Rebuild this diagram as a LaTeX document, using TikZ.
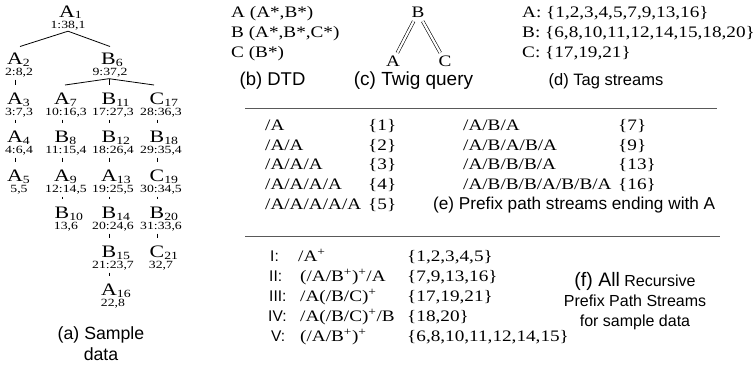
\documentclass[tikz,border=0pt]{standalone}
\usepackage{fontspec}
\setmainfont[FakeStretch=1.2]{Liberation Serif}
\newfontfamily\treefont[FakeStretch=1.25]{Liberation Serif}
\newfontfamily\numfont[FakeStretch=1.25]{Liberation Serif}
\newfontfamily\capfont{Liberation Sans}
\newcommand{\tlab}[2]{#1\rlap{\fontsize{11}{11}\selectfont\raisebox{-1.5pt}{#2}}}
\newcommand{\plussup}{\textsuperscript{+}}
\begin{document}
\begin{tikzpicture}[x=1pt,y=-1pt,
  tl/.style={font=\treefont\fontsize{17.5}{17.5}\selectfont, inner sep=0pt, text height=11.6pt, text depth=0pt},
  tn/.style={font=\numfont\fontsize{11}{11}\selectfont, inner sep=1pt},
  tedge/.style={line width=0.8pt},
  tx/.style={anchor=base west, inner sep=0pt, font=\fontsize{16}{16}\selectfont},
  capt/.style={anchor=base, inner sep=0pt, font=\capfont\fontsize{16}{16}\selectfont},
  rom/.style={anchor=base west, inner sep=0pt, font=\capfont\fontsize{15.5}{15.5}\selectfont},
  tw/.style={anchor=base, inner sep=3pt, font=\fontsize{16}{16}\selectfont},
  dbl/.style={double distance=2.2pt, line width=0.6pt},
  hrule/.style={line width=1.2pt, black!65}]
\useasboundingbox (0,0) rectangle (756,369);

% ---------- (a) tree ----------
\node[tl] (A1) at (67,11.5) {\tlab{A}{1}};
\node[tn] (nA1) at (68,25.5) {1:38,1};
\node[tl] (A2) at (15,59) {\tlab{A}{2}};
\node[tn] (nA2) at (19,73) {2:8,2};
\node[tl] (B6) at (108.5,59) {\tlab{B}{6}};
\node[tn] (nB6) at (110,73) {9:37,2};
% row 3
\node[tl] (A3) at (15,99) {\tlab{A}{3}};
\node[tn] (nA3) at (19,113) {3:7,3};
\node[tl] (A7) at (62,99) {\tlab{A}{7}};
\node[tn] (nA7) at (66,113) {10:16,3};
\node[tl] (B11) at (109,99) {\tlab{B}{11}};
\node[tn] (nB11) at (113,113) {17:27,3};
\node[tl] (C17) at (157,99) {\tlab{C}{17}};
\node[tn] (nC17) at (161,113) {28:36,3};
% row 4
\node[tl] (A4) at (15,137) {\tlab{A}{4}};
\node[tn] (nA4) at (19,151) {4:6,4};
\node[tl] (B8) at (62,137) {\tlab{B}{8}};
\node[tn] (nB8) at (66,151) {11:15,4};
\node[tl] (B12) at (109,137) {\tlab{B}{12}};
\node[tn] (nB12) at (113,151) {18:26,4};
\node[tl] (B18) at (157,137) {\tlab{B}{18}};
\node[tn] (nB18) at (161,151) {29:35,4};
% row 5
\node[tl] (A5) at (15,176) {\tlab{A}{5}};
\node[tn] (nA5) at (19,190) {5,5};
\node[tl] (A9) at (62,176) {\tlab{A}{9}};
\node[tn] (nA9) at (66,190) {12:14,5};
\node[tl] (A13) at (109,176) {\tlab{A}{13}};
\node[tn] (nA13) at (113,190) {19:25,5};
\node[tl] (C19) at (157,176) {\tlab{C}{19}};
\node[tn] (nC19) at (161,190) {30:34,5};
% row 6
\node[tl] (B10) at (62,213) {\tlab{B}{10}};
\node[tn] (nB10) at (66,227) {13,6};
\node[tl] (B14) at (109,213) {\tlab{B}{14}};
\node[tn] (nB14) at (113,227) {20:24,6};
\node[tl] (B20) at (157,213) {\tlab{B}{20}};
\node[tn] (nB20) at (161,227) {31:33,6};
% row 7
\node[tl] (B15) at (109,252) {\tlab{B}{15}};
\node[tn] (nB15) at (113,266) {21:23,7};
\node[tl] (C21) at (157,252) {\tlab{C}{21}};
\node[tn] (nC21) at (161,266) {32,7};
% row 8
\node[tl] (A16) at (109,290) {\tlab{A}{16}};
\node[tn] (nA16) at (113,304) {22,8};

% tree edges
\draw[tedge] (nA1.south) -- ([yshift=6.5pt,xshift=5pt]A2.north);
\draw[tedge] (nA1.south) -- ([yshift=6.5pt,xshift=1.5pt]B6.north);
\draw[tedge] (nB6.south -| B11) -- ([yshift=8pt,xshift=3pt]A7.north);
\draw[tedge] (nB6.south -| B11) -- ([yshift=8pt]B11.north);
\draw[tedge] (nB6.south -| B11) -- ([yshift=8pt,xshift=-3pt]C17.north);
\foreach \u/\v in {A2/A3,A3/A4,A4/A5,A7/B8,B8/A9,A9/B10,B11/B12,B12/A13,A13/B14,B14/B15,B15/A16,C17/B18,B18/C19,C19/B20,B20/C21}
  \draw[tedge] ([yshift=-1pt]n\u.south -| \v) -- ([yshift=8pt]\v.north);

\node[capt, font=\capfont\fontsize{17.7}{17.7}\selectfont] (capa1) at (101,339.5) {(a) Sample};
\node[capt, font=\capfont\fontsize{17.7}{17.7}\selectfont] (capa2) at (101,360) {data};

% ---------- (b) DTD ----------
\node[tx] (d1) at (231,18) {A (A*,B*)};
\node[tx] (d2) at (231,38) {B (A*,B*,C*)};
\node[tx] (d3) at (231,58) {C (B*)};
\node[capt, font=\capfont\fontsize{18.5}{18.5}\selectfont] (capb) at (272.5,86) {(b) DTD};

% ---------- (c) twig ----------
\node[tw] (tB) at (418,18) {B};
\node[tw] (tA) at (393,66.5) {A};
\node[tw] (tC) at (445,66.5) {C};
\draw[dbl] (tB) -- (tA);
\draw[dbl] (tB) -- (tC);
\node[capt, font=\capfont\fontsize{19}{19}\selectfont] (capc) at (413.5,86) {(c) Twig query};

% ---------- (d) tag streams ----------
\node[tx] (s1) at (522,18) {A: \{1,2,3,4,5,7,9,13,16\}};
\node[tx] (s2) at (522,38) {B: \{6,8,10,11,12,14,15,18,20\}};
\node[tx] (s3) at (522,58) {C: \{17,19,21\}};
\node[capt, font=\capfont\fontsize{16.5}{16.5}\selectfont] (capd) at (606,86) {(d) Tag streams};

% rule 1
\coordinate (ra) at (245,108.5);
\coordinate (rb) at (717,108.5);
\draw[hrule] (ra) -- (rb);

% ---------- (e) prefix path streams ----------
\node[tx] (p1) at (265,130.5) {/A};
\node[tx] (p2) at (265,150.2) {/A/A};
\node[tx] (p3) at (265,169.9) {/A/A/A};
\node[tx] (p4) at (265,189.6) {/A/A/A/A};
\node[tx] (p5) at (265,209.3) {/A/A/A/A/A};
\node[tx] (q1) at (368,130.5) {\{1\}};
\node[tx] (q2) at (368,150.2) {\{2\}};
\node[tx] (q3) at (368,169.9) {\{3\}};
\node[tx] (q4) at (368,189.6) {\{4\}};
\node[tx] (q5) at (368,209.3) {\{5\}};
\node[tx] (p6) at (463,130.5) {/A/B/A};
\node[tx] (p7) at (463,150.2) {/A/B/A/B/A};
\node[tx] (p8) at (463,169.9) {/A/B/B/B/A};
\node[tx] (p9) at (463,189.6) {/A/B/B/B/A/B/B/A};
\node[tx] (q6) at (618,130.5) {\{7\}};
\node[tx] (q7) at (618,150.2) {\{9\}};
\node[tx] (q8) at (618,169.9) {\{13\}};
\node[tx] (q9) at (618,189.6) {\{16\}};
\node[capt, anchor=base west, font=\capfont\fontsize{17.2}{17.2}\selectfont] (cape) at (433,209.3) {(e) Prefix path streams ending with A};

% rule 2
\coordinate (rc) at (245,236.7);
\coordinate (rd) at (720,236.7);
\draw[hrule] (rc) -- (rd);

% ---------- (f) recursive prefix path streams ----------
\node[rom] (r1) at (270,261.5) {I:};
\node[rom] (r2) at (269,281.5) {II:};
\node[rom] (r3) at (269,301.5) {III:};
\node[rom] (r4) at (268,321.5) {IV:};
\node[rom] (r5) at (271,341.5) {V:};
\node[tx] (e1) at (298,261.5) {/A\plussup};
\node[tx] (e2) at (300,281.5) {(/A/B\plussup)\plussup/A};
\node[tx] (e3) at (300,301.5) {/A(/B/C)\plussup};
\node[tx] (e4) at (300,321.5) {/A(/B/C)\plussup/B};
\node[tx] (e5) at (300,341.5) {(/A/B\plussup)\plussup};
\node[tx] (f1) at (407,261.5) {\{1,2,3,4,5\}};
\node[tx] (f2) at (407,281.5) {\{7,9,13,16\}};
\node[tx] (f3) at (407,301.5) {\{17,19,21\}};
\node[tx] (f4) at (407,321.5) {\{18,20\}};
\node[tx] (f5) at (407,341.5) {\{6,8,10,11,12,14,15\}};
\node[capt] (capf1) at (635,286) {{\fontsize{19.5}{19.5}\selectfont (f) All} Recursive};
\node[capt] (capf2) at (635,306) {Prefix Path Streams};
\node[capt] (capf3) at (635,326) {for sample data};
\end{tikzpicture}
\end{document}
